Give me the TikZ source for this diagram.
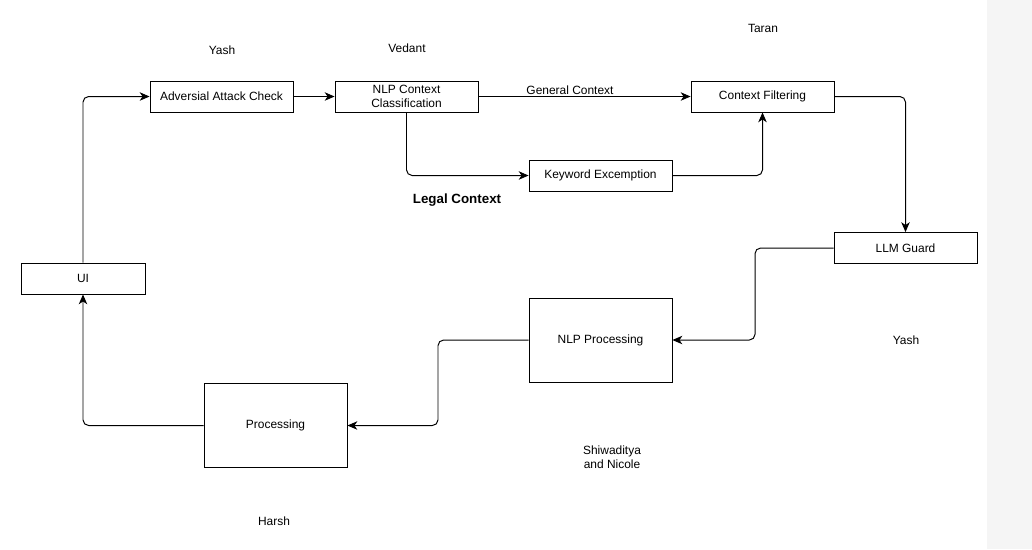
\documentclass[tikz,border=0pt]{standalone}
\usepackage{fontspec}
\setmainfont{Liberation Sans}
\usepackage{tikz}
\usepackage{xcolor}
\usetikzlibrary{shapes,arrows,positioning,calc,arrows.meta}
\definecolor{sidegray}{RGB}{245,245,245}
\tikzset{
	box/.style={draw, line width=0.6pt, inner sep=1pt, align=center, minimum width=3.575cm, minimum height=0.775cm, font=\fontsize{8.5}{10}\selectfont},
	who/.style={align=center, font=\fontsize{8.5}{10}\selectfont},
	flow/.style={line width=0.7pt, rounded corners=4pt, -{Stealth[length=7pt,width=6pt,inset=2pt]}}
}

\begin{document}
\begin{tikzpicture}[x=0.025cm, y=-0.025cm]
				\useasboundingbox (0,0) rectangle (1032,549);
				% grey strip at the right
				\fill[sidegray] (987,0) rectangle (1032,549);
				% top row
				\node[box] (adv) at (221.5,96.5) {Adversial Attack Check};
				\node[box] (nlpcc) at (406.5,96.5) {NLP Context\\Classification};
				\node[box] (filt) at (762.5,96.5) {Context Filtering};
				\node[box] (kw) at (600.5,175.5) {Keyword Excemption};
				\node[box] (llm) at (905.5,248) {LLM Guard};
				% bottom row
				\node[box, minimum height=2.1cm] (nlpp) at (600.5,340) {NLP Processing};
				\node[box, minimum height=2.1cm] (proc) at (275.5,425.5) {Processing};
				\node[box, minimum width=3.1cm] (ui) at (83,278.5) {UI};
				% names
				\node[who] (yash1) at (222,50) {Yash};
				\node[who] (vedant) at (407,48) {Vedant};
				\node[who] (taran) at (763,28) {Taran};
				\node[who] (yash2) at (906,340) {Yash};
				\node[who] (shiw) at (612,457) {Shiwaditya\\and Nicole};
				\node[who] (harsh) at (274,521) {Harsh};
				\node[who] (gen) at (570,90) {General Context};
				\node[font=\fontsize{9.5}{11}\selectfont\bfseries] (legal) at (457,200) {Legal Context};
				% bends
				\coordinate (bend1) at (755,294);
				\coordinate (bend2) at (438,380);
				% arrows
				\draw[flow] (ui.north) |- (adv.west);
				\draw[flow] (adv.east) -- (nlpcc.west);
				\draw[flow] (nlpcc.east) -- (filt.west);
				\draw[flow] (nlpcc.south) |- (kw.west);
				\draw[flow] (kw.east) -| (filt.south);
				\draw[flow] (filt.east) -| (llm.north);
				\draw[flow] (llm.west) -| (bend1) |- (nlpp.east);
				\draw[flow] (nlpp.west) -| (bend2) |- (proc.east);
				\draw[flow] (proc.west) -| (ui.south);
			\end{tikzpicture}
\end{document}
